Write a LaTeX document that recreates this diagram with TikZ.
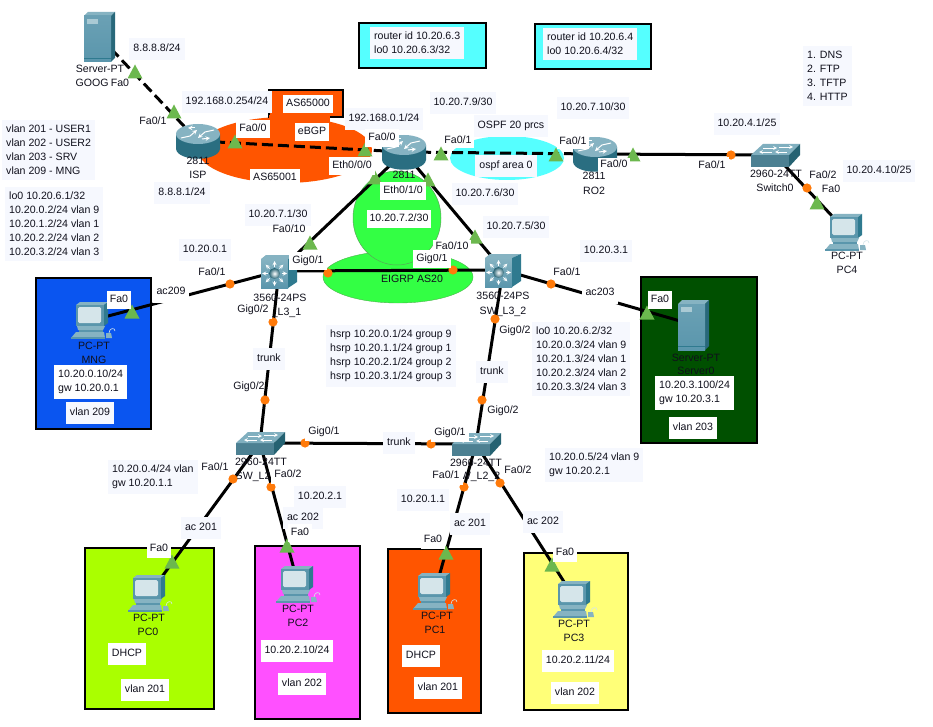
\documentclass[tikz,border=0pt]{standalone}
\usepackage{fontspec}
\setmainfont{Liberation Sans}
\definecolor{lab}{HTML}{F6F8FE}
\definecolor{ink}{HTML}{10101C}
\definecolor{orangeas}{HTML}{FF5500}
\definecolor{cyanbox}{HTML}{55FFFF}
\definecolor{greenas}{HTML}{33FF44}
\definecolor{markc}{HTML}{FF7A0A}
\definecolor{tric}{HTML}{6CB84E}
\definecolor{tealA}{HTML}{5A96AC}
\definecolor{tealB}{HTML}{2F7A8F}
\definecolor{tealC}{HTML}{86B3C2}
\definecolor{tealD}{HTML}{D5E5EA}
\definecolor{bluearea}{HTML}{0A55F0}
\definecolor{darkgreenarea}{HTML}{005000}
\definecolor{limearea}{HTML}{AAFF00}
\definecolor{magarea}{HTML}{FF50FF}
\definecolor{yelarea}{HTML}{FFFF78}
\newcounter{lbc}
\newcommand\Lb[4][lab]{\stepcounter{lbc}\node[#1] (t\arabic{lbc}) at (#2,#3) {#4};}
\tikzset{
  x=1pt,y=-1pt,
  txt/.style={font=\fontsize{10.6}{14}\selectfont,text=ink,inner sep=0pt,text height=7.5pt,text depth=2pt},
  capt/.style={txt},
  lab/.style={txt,fill=lab,inner xsep=4pt,inner ysep=6pt},
  wht/.style={txt,fill=white,inner xsep=3pt,inner ysep=4pt},
  wtight/.style={txt,fill=white,inner xsep=2.5pt,inner ysep=2pt},
  block/.style={font=\fontsize{10.6}{14}\selectfont,text=ink,fill=lab,align=left,anchor=north west,inner xsep=4pt,inner ysep=5pt},
  wblock/.style={block,fill=white},
  devnode/.style={inner sep=0pt,minimum size=1pt},
  link/.style={draw=black,line width=3pt},
  dlink/.style={link,dash pattern=on 11pt off 5pt},
  frameb/.style={draw=black,line width=1.1pt},
  gtri/.pic={\fill[tric] (-7.5,6.5) -- (7.5,6.5) -- (0,-7.5) -- cycle;},
  omark/.pic={\fill[markc] (0,0) circle (4.6pt);},
  router/.pic={
    \path[left color=tealB!90!black,middle color=tealD,right color=tealB!90!black]
      (-22,-7) -- (-22,8) .. controls (-20,21) and (20,21) .. (22,8) -- (22,-7) -- cycle;
    \fill[tealC] (0,-7) ellipse (22pt and 10pt);
    \draw[white,line width=1pt,-stealth] (-17,-3) -- (-8,-5) -- (-1,-11);
    \draw[white,line width=1pt,-stealth] (16,-11) -- (7,-9) -- (0,-3);
    \draw[white,line width=1pt,-stealth] (-3,-13) -- (-10,-13);
    \draw[white,line width=1pt,-stealth] (4,-2) -- (12,-3);
  },
  mlsw/.pic={
    \fill[top color=tealC,bottom color=tealA] (-18,-12) rectangle (9,17);
    \fill[tealC] (-18,-12) -- (-13,-16) -- (18,-16) -- (9,-12) -- cycle;
    \fill[tealB] (9,-12) -- (18,-16) -- (18,11) -- (9,17) -- cycle;
    \foreach \a in {0,45,...,315}{\draw[white,line width=.9pt,-stealth] ({-4.5+7*cos(\a)},{2.5+7*sin(\a)}) -- ({-4.5+12.5*cos(\a)},{2.5+12.5*sin(\a)});}
    \shade[inner color=white,outer color=tealB!80!black] (-4.5,2.5) circle (5.5pt);
  },
  lswitch/.pic={
    \fill[tealA!85!black] (-24,0) rectangle (14,12);
    \fill[tealC!85!tealA] (-24,0) -- (-12,-11) -- (25,-11) -- (14,0) -- cycle;
    \fill[tealB!80!black] (14,0) -- (25,-11) -- (25,0) -- (14,12) -- cycle;
    \draw[white,line width=.7pt,-stealth] (-12,-7) -- (2,-7);
    \draw[white,line width=.7pt,-stealth] (4,-8) -- (18,-8);
    \draw[white,line width=.7pt,stealth-] (-16,-3) -- (-3,-3);
    \draw[white,line width=.7pt,stealth-] (0,-3) -- (12,-3);
  },
  pcicon/.pic={
    \fill[tealC] (-17,-15) -- (-13,-18) -- (15,-18) -- (11,-15) -- cycle;
    \fill[tealB] (11,-15) -- (15,-18) -- (15,3) -- (11,6) -- cycle;
    \fill[tealA] (-17,-15) rectangle (11,6);
    \fill[tealD,rounded corners=1.5pt] (-15,-13) rectangle (8,3);
    \fill[tealC] (-16,6) -- (12,6) -- (10,10) -- (-15,10) -- cycle;
    \fill[tealA] (-14,10) rectangle (10,12);
    \fill[tealC] (-17,12) -- (11,12) -- (12,18) -- (-22,18) -- cycle;
    \fill[tealA] (-22,17) rectangle (12,18.5);
    \fill[tealC] (13,13) -- (18,13) -- (19,18) -- (13,18) -- cycle;
    \draw[tealD,line width=.6pt] (16,13) .. controls (16,8) and (22,7) .. (22,11);
  },
  srv/.pic={
    \fill[tealC] (-16,-21) -- (-12,-25) -- (15,-25) -- (11,-21) -- cycle;
    \fill[tealB!85!black] (11,-21) -- (15,-25) -- (15,21) -- (11,25) -- cycle;
    \fill[top color=tealA!90!white,bottom color=tealA] (-16,-21) rectangle (11,25);
    \fill[tealC!70!white] (-13,-18) rectangle (-2,-13);
    \draw[tealB,line width=.5pt] (-16,21) -- (11,21);
  }
}
\begin{document}
\begin{tikzpicture}
\useasboundingbox (0,0) rectangle (933,727);
\fill[white] (0,0) rectangle (933,727);
% --- coloured areas
\fill[orangeas] (285,150) ellipse (87pt and 33pt);
\draw[frameb,fill=orangeas] (269,90) rectangle (343,117);
\fill[orangeas] (269,115) rectangle (330,135);
\fill[cyanbox] (507,158) ellipse (57pt and 22pt);
\draw[draw=gray!60!green,line width=.4pt,fill=greenas] (398,277) ellipse (75pt and 26pt);
\draw[draw=gray!70!green,line width=.5pt,fill=greenas] (397,218) ellipse (44pt and 47pt);
\draw[frameb,fill=cyanbox] (359,23) rectangle (486,68);
\draw[frameb,fill=cyanbox] (535,24) rectangle (651,69);
\draw[frameb,fill=bluearea] (36,278) rectangle (151,429);
\draw[frameb,fill=darkgreenarea] (641,277) rectangle (757,443);
\draw[frameb,fill=limearea] (85,548) rectangle (214,709);
\draw[frameb,fill=magarea] (255,546) rectangle (360,719);
\draw[frameb,fill=orangeas] (388,549) rectangle (481,713);
\draw[frameb,fill=yelarea] (524,553) rectangle (628,710);
% --- device anchors
\node[devnode] (goog) at (100,37) {};
\node[devnode] (isp) at (198,141) {};
\node[devnode] (ro1) at (404,152) {};
\node[devnode] (ro2) at (595,154) {};
\node[devnode] (sw0) at (775,155) {};
\node[devnode] (pc4) at (847,232) {};
\node[devnode] (l31) at (279,271) {};
\node[devnode] (l32) at (503,270) {};
\node[devnode] (mng) at (93,320) {};
\node[devnode] (srv0) at (694,325) {};
\node[devnode] (l21) at (260,443) {};
\node[devnode] (l22) at (476,444) {};
\node[devnode] (pc0) at (150,593) {};
\node[devnode] (pc2) at (298,584) {};
\node[devnode] (pc1) at (435,591) {};
\node[devnode] (pc3) at (575,599) {};
% --- connectors
\draw[dlink] (goog.center) -- (isp.center);
\draw[dlink] (isp.center) -- (ro1.center);
\draw[dlink] (ro1.center) -- (ro2.center);
\draw[link] (ro2.center) -- (sw0.center);
\draw[link] (sw0.center) -- (pc4.center);
\draw[link] (ro1.center) -- (l31.center);
\draw[link] (ro1.center) -- (l32.center);
\draw[link] (l31.center) -- (l32.center);
\draw[link] (l31.center) -- (mng.center);
\draw[link] (l32.center) -- (srv0.center);
\draw[link] (l31.center) -- (l21.center);
\draw[link] (l32.center) -- (l22.center);
\draw[link] (l21.center) -- (l22.center);
\draw[link] (l21.center) -- (pc0.center);
\draw[link] (l21.center) -- (pc2.center);
\draw[link] (l22.center) -- (pc1.center);
\draw[link] (l22.center) -- (pc3.center);
% --- device icons
\pic at (goog.center) {srv};
\pic at (isp.center) {router};
\pic at (ro1.center) {router};
\pic at (ro2.center) {router};
\pic at (sw0.center) {lswitch};
\pic at (pc4.center) {pcicon};
\pic at (l31.center) {mlsw};
\pic at (l32.center) {mlsw};
\pic at (mng.center) {pcicon};
\pic at (srv0.center) {srv};
\pic at (l21.center) {lswitch};
\pic at (l22.center) {lswitch};
\pic at (pc0.center) {pcicon};
\pic at (pc2.center) {pcicon};
\pic at (pc1.center) {pcicon};
\pic at (pc3.center) {pcicon};
% --- device captions
\Lb[capt]{100}{70}{Server-PT}
\Lb[capt]{92}{84}{GOOG}
\Lb[capt]{198}{162}{2811}
\Lb[capt]{198}{176}{ISP}
\Lb[capt]{404}{176}{2811}
\Lb[capt]{594}{177}{2811}
\Lb[capt]{594}{192}{RO2}
\Lb[capt]{776}{175}{2960-24TT}
\Lb[capt]{775}{189}{Switch0}
\Lb[capt]{847}{257}{PC-PT}
\Lb[capt]{847}{271}{PC4}
\Lb[capt]{280}{299}{3560-24PS}
\Lb[capt]{278}{313}{SW\_L3\_1}
\Lb[capt]{503}{297}{3560-24PS}
\Lb[capt]{503}{312}{SW\_L3\_2}
\Lb[capt]{94}{347}{PC-PT}
\Lb[capt]{94}{361}{MNG}
\Lb[capt]{696}{359}{Server-PT}
\Lb[capt]{696}{372}{Server0}
\Lb[capt]{261}{463}{2960-24TT}
\Lb[capt]{259}{477}{SW\_L2\_1}
\Lb[capt]{476}{464}{2960-24TT}
\Lb[capt]{477}{477}{SW\_L2\_2}
\Lb[capt]{149}{619}{PC-PT}
\Lb[capt]{148}{633}{PC0}
\Lb[capt]{298}{610}{PC-PT}
\Lb[capt]{298}{624}{PC2}
\Lb[capt]{437}{617}{PC-PT}
\Lb[capt]{435}{631}{PC1}
\Lb[capt]{574}{625}{PC-PT}
\Lb[capt]{574}{639}{PC3}
% --- port markers
\foreach \u/\v in {135/72,174/112,235/142,365/150,441/154,556/155,633/155,817/203,375/178,428/180,310/243,475/237,132/312,647/313,172/562,287/546,446/553,552/565}{\pic at (\u,\v) {gtri};}
\foreach \u/\v in {731/155,807/188,328/273,453/270,230/284,551/284,273/322,495/319,265/400,482/400,305/443,431/444,233/479,271/487,464/487,500/483}{\pic at (\u,\v) {omark};}
% --- address and interface labels
\Lb{157}{49}{8.8.8.8/24}
\Lb{227}{102}{192.168.0.254/24}
\Lb{182}{193}{8.8.8.1/24}
\Lb{384}{119}{192.168.0.1/24}
\Lb{463}{103}{10.20.7.9/30}
\Lb{593}{108}{10.20.7.10/30}
\Lb{747}{124}{10.20.4.1/25}
\Lb{879}{171}{10.20.4.10/25}
\Lb{485}{194}{10.20.7.6/30}
\Lb{516}{227}{10.20.7.5/30}
\Lb{606}{251}{10.20.3.1}
\Lb{278}{215}{10.20.7.1/30}
\Lb{205}{250}{10.20.0.1}
\Lb{320}{497}{10.20.2.1}
\Lb{423}{500}{10.20.1.1}
\Lb[wht]{308}{104}{AS65000}
\Lb[wht]{312}{132}{eBGP}
\Lb[wht]{275}{178}{AS65001}
\Lb[wht]{253}{129}{Fa0/0}
\Lb[wht]{352}{166}{Eth0/0/0}
\Lb[wht]{382}{138}{Fa0/0}
\Lb[wht]{403}{191}{Eth0/1/0}
\Lb[wht]{399}{219}{10.20.7.2/30}
\Lb[capt]{412}{280}{EIGRP AS20}
\Lb[lab]{511}{126}{OSPF 20 prcs}
\Lb[lab]{506}{166}{ospf area 0}
\Lb[wtight]{458}{141}{Fa0/1}
\Lb[wtight]{573}{142}{Fa0/1}
\Lb[wtight]{614}{165}{Fa0/0}
\Lb[wht]{712}{166}{Fa0/1}
\Lb[capt]{823}{176}{Fa0/2}
\Lb[wht]{831}{190}{Fa0}
\Lb[capt]{120}{84}{Fa0}
\Lb[capt]{153}{122}{Fa0/1}
\Lb[wht]{308}{261}{Gig0/1}
\Lb[wht]{432}{259}{Gig0/1}
\Lb[capt]{289}{230}{Fa0/10}
\Lb[wtight]{452}{247}{Fa0/10}
\Lb[capt]{212}{273}{Fa0/1}
\Lb[capt]{567}{273}{Fa0/1}
\Lb[lab,fill=white]{171}{292}{ac209}
\Lb[lab,fill=white]{600}{293}{ac203}
\Lb[wht]{119}{300}{Fa0}
\Lb[wht]{660}{300}{Fa0}
\Lb[wht]{253}{310}{Gig0/2}
\Lb[capt]{515}{331}{Gig0/2}
\Lb[lab]{269}{359}{trunk}
\Lb[lab]{492}{372}{trunk}
\Lb[capt]{249}{387}{Gig0/2}
\Lb[capt]{503}{411}{Gig0/2}
\Lb[wht]{324}{432}{Gig0/1}
\Lb[wht]{450}{433}{Gig0/1}
\Lb[lab]{399}{443}{trunk}
\Lb[capt]{215}{468}{Fa0/1}
\Lb[wht]{288}{475}{Fa0/2}
\Lb[wht]{446}{476}{Fa0/1}
\Lb[capt]{518}{471}{Fa0/2}
\Lb[lab]{201}{528}{ac 201}
\Lb[lab]{303}{518}{ac 202}
\Lb[wht]{300}{533}{Fa0}
\Lb[lab]{470}{524}{ac 201}
\Lb[lab]{543}{522}{ac 202}
\Lb[wht]{159}{549}{Fa0}
\Lb[wht]{433}{540}{Fa0}
\Lb[wht]{565}{553}{Fa0}
% --- text blocks
\Lb[block]{2}{120}{vlan 201 - USER1\\vlan 202 - USER2\\vlan 203 - SRV\\vlan 209 - MNG}
\Lb[block]{5}{187}{lo0 10.20.6.1/32\\10.20.0.2/24 vlan 9\\10.20.1.2/24 vlan 1\\10.20.2.2/24 vlan 2\\10.20.3.2/24 vlan 3}
\Lb[block]{326}{325}{hsrp 10.20.0.1/24 group 9\\hsrp 10.20.1.1/24 group 1\\hsrp 10.20.2.1/24 group 2\\hsrp 10.20.3.1/24 group 3}
\Lb[block]{532}{322}{lo0 10.20.6.2/32\\10.20.0.3/24 vlan 9\\10.20.1.3/24 vlan 1\\10.20.2.3/24 vlan 2\\10.20.3.3/24 vlan 3}
\Lb[block]{545}{448}{10.20.0.5/24 vlan 9\\gw 10.20.2.1}
\Lb[block]{108}{460}{10.20.0.4/24 vlan\\gw 10.20.1.1}
\Lb[block]{803}{46}{1. DNS\\2. FTP\\3. TFTP\\4. HTTP}
\Lb[block]{370}{27}{router id 10.20.6.3\\lo0 10.20.6.3/32}
\Lb[block]{543}{28}{router id 10.20.6.4\\lo0 10.20.6.4/32}
\Lb[wblock]{54}{365}{10.20.0.10/24\\gw 10.20.0.1}
\Lb[wblock]{655}{376}{10.20.3.100/24\\gw 10.20.3.1}
\Lb[lab]{90}{413}{vlan 209}
\Lb[lab,fill=white]{693}{428}{vlan 203}
\Lb[lab,fill=white]{127}{654}{DHCP}
\Lb[lab,fill=white]{145}{690}{vlan 201}
\Lb[lab,fill=white]{297}{651}{10.20.2.10/24}
\Lb[lab,fill=white]{302}{684}{vlan 202}
\Lb[lab,fill=white]{421}{656}{DHCP}
\Lb[lab,fill=white]{438}{688}{vlan 201}
\Lb[lab,fill=white]{578}{661}{10.20.2.11/24}
\Lb[lab,fill=white]{575}{693}{vlan 202}
\end{tikzpicture}
\end{document}
